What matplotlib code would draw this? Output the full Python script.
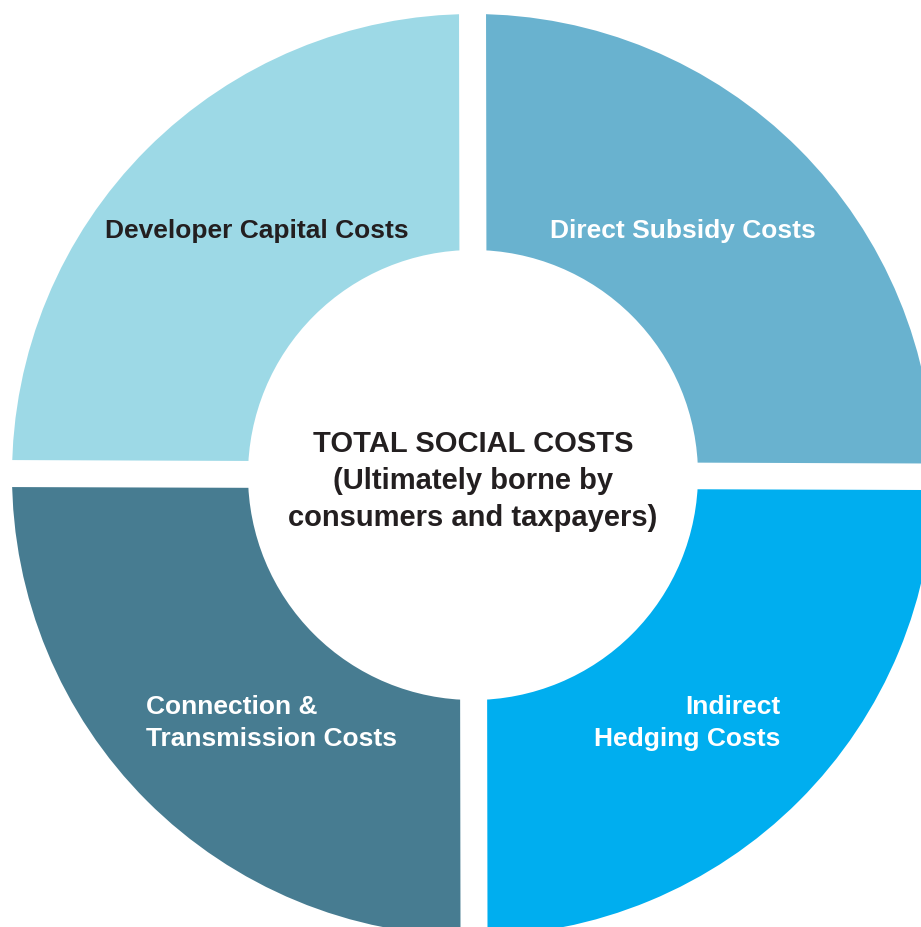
import matplotlib.pyplot as plt
from matplotlib.patches import Polygon

plt.rcParams['font.family'] = ['Liberation Sans', 'DejaVu Sans']

# four equal cost components, counter-clockwise from 12 o'clock
components = ["Developer Capital Costs", "Connection &\nTransmission Costs",
              "Indirect\nHedging Costs", "Direct Subsidy Costs"]
shares = [1, 1, 1, 1]
colors = ["#9dd9e6", "#477c91", "#00aeef", "#69b2cf"]
center_text = "TOTAL SOCIAL COSTS\n(Ultimately borne by\nconsumers and taxpayers)"

W, H = 921, 928
fig = plt.figure(figsize=(W / 100, H / 100), dpi=100)
ax = fig.add_axes([0, 0, 1, 1])

cx, cy = 473, H - 476
R, r = 461, 225

ax.pie(shares, colors=colors, startangle=90, counterclock=True,
       center=(cx, cy), radius=R,
       wedgeprops=dict(width=R - r, linewidth=0))

# white gaps between the quadrants
ax.add_patch(Polygon([(459, H + 5), (486, H + 5), (487.5, -5), (460.5, -5)],
                     closed=True, color="white", lw=0, zorder=5))
ax.add_patch(Polygon([(-5, H - 461), (W + 5, H - 464.5), (W + 5, H - 491), (-5, H - 488)],
                     closed=True, color="white", lw=0, zorder=5))

ax.set_xlim(0, W)
ax.set_ylim(0, H)
ax.set_aspect("auto")
ax.axis("off")

fs = 19
ax.text(257, H - 231, components[0], ha="center", va="center",
        fontsize=fs, fontweight="bold", color="#231f20", zorder=6)
ax.text(683, H - 231, components[3], ha="center", va="center",
        fontsize=fs, fontweight="bold", color="white", zorder=6)
ax.text(146, H - 723, components[1], ha="left", va="center",
        fontsize=fs, fontweight="bold", color="white", zorder=6, linespacing=1.38)
ax.text(780, H - 723, components[2], ha="right", va="center",
        multialignment="right", fontsize=fs, fontweight="bold",
        color="white", zorder=6, linespacing=1.38)
ax.text(473, H - 481, center_text, ha="center", va="center",
        fontsize=21, fontweight="bold", color="#231f20", zorder=6, linespacing=1.43)

fig.savefig("out.png", dpi=100, facecolor="white")
